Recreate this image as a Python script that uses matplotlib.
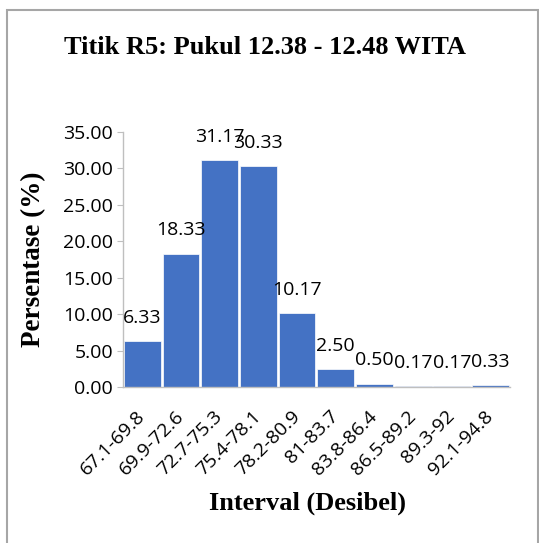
import matplotlib
matplotlib.use("Agg")
import matplotlib.pyplot as plt
from matplotlib.patches import Rectangle

# frekuensi kebisingan titik R5
intervals = ["67.1-69.8", "69.9-72.6", "72.7-75.3", "75.4-78.1", "78.2-80.9",
             "81-83.7", "83.8-86.4", "86.5-89.2", "89.3-92", "92.1-94.8"]
persen = [6.33, 18.33, 31.17, 30.33, 10.17, 2.50, 0.50, 0.17, 0.17, 0.33]
yticks = [0, 5, 10, 15, 20, 25, 30, 35]

sans = "Open Sans"
serif = "Liberation Serif"

fig = plt.figure(figsize=(5.39, 5.43), dpi=100)
ax = fig.add_axes([0.228, 0.287, 0.718, 0.470])

x = range(len(intervals))
bars = ax.bar(x, persen, width=0.95, color="#4472C4", edgecolor="white", linewidth=0.5)

for xi, v in zip(x, persen):
    ax.annotate(f"{v:.2f}", (xi, v), xytext=(0, 13), textcoords="offset points",
                ha="center", va="baseline", fontsize=14, family=sans)

ax.set_xlim(-0.5, len(intervals) - 0.5)
ax.set_ylim(0, 35)
ax.set_yticks(yticks)
ax.set_yticklabels([f"{t:.2f}" for t in yticks], fontsize=14, family=sans)
ax.set_xticks(list(x))
ax.set_xticklabels(intervals, rotation=45, ha="right", va="center",
                   rotation_mode="anchor", fontsize=14, family=sans)
ax.tick_params(axis="x", length=0, pad=19)
ax.tick_params(axis="y", length=4, color="#bfbfbf", pad=3)

for s in ["top", "right"]:
    ax.spines[s].set_visible(False)
for s in ["left", "bottom"]:
    ax.spines[s].set_color("#bfbfbf")
    ax.spines[s].set_linewidth(1.0)

fig.text(0.492, 0.912, "Titik R5: Pukul 12.38 - 12.48 WITA", ha="center", va="center",
         fontsize=19, fontweight="bold", family=serif)
fig.text(0.063, 0.522, "Persentase (%)", ha="center", va="center", rotation=90,
         fontsize=19.5, fontweight="bold", family=serif)
fig.text(0.571, 0.074, "Interval (Desibel)", ha="center", va="center",
         fontsize=19, fontweight="bold", family=serif)

# bingkai grafik
fig.patches.append(Rectangle((7 / 539, -0.05), 531 / 539, 1.05 - 10 / 543,
                             transform=fig.transFigure, fill=False,
                             edgecolor="#a6a6a6", linewidth=1.5))

fig.savefig("out.png", dpi=100)
